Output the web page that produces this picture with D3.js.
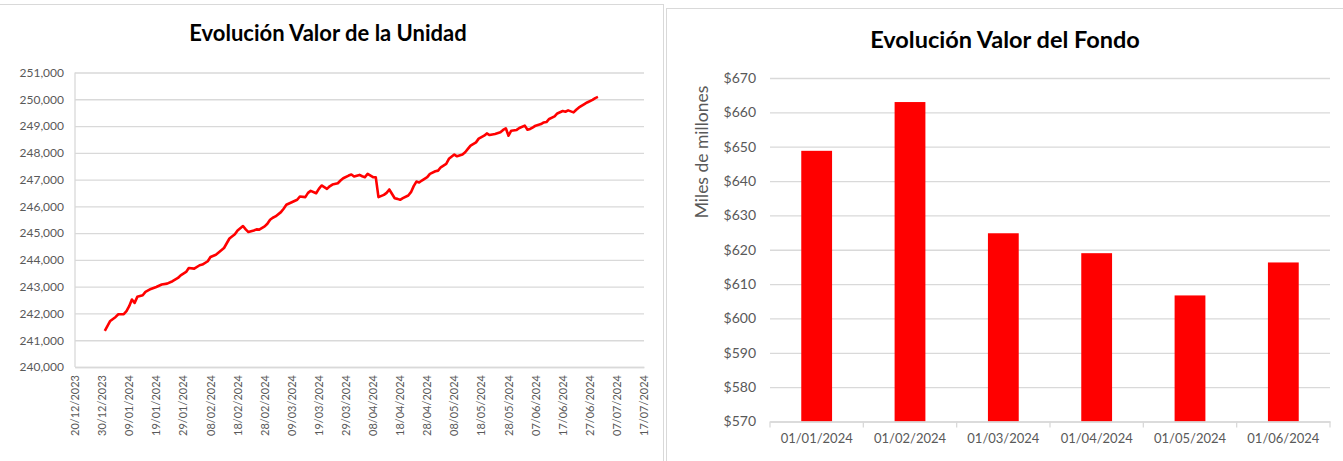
<!DOCTYPE html>
<html><head><meta charset="utf-8">
<script src="https://cdn.jsdelivr.net/npm/d3@7"></script>
<style>body{margin:0;background:#fff;}svg{display:block;font-family:Lato,"Open Sans",sans-serif;}</style>
</head><body>
<svg id="c" width="1343" height="461"></svg>
<script>
// ---- Data: left chart (unit value) ----
const unitDates = ["2023-12-31","2024-01-02","2024-01-04","2024-01-05","2024-01-07","2024-01-08","2024-01-09","2024-01-10","2024-01-11","2024-01-12","2024-01-14","2024-01-15","2024-01-17","2024-01-19","2024-01-21","2024-01-23","2024-01-25","2024-01-27","2024-01-28","2024-01-30","2024-01-31","2024-02-02","2024-02-04","2024-02-05","2024-02-07","2024-02-08","2024-02-10","2024-02-12","2024-02-13","2024-02-15","2024-02-17","2024-02-18","2024-02-20","2024-02-21","2024-02-22","2024-02-24","2024-02-25","2024-02-26","2024-02-28","2024-02-29","2024-03-01","2024-03-02","2024-03-03","2024-03-05","2024-03-06","2024-03-07","2024-03-09","2024-03-11","2024-03-12","2024-03-14","2024-03-15","2024-03-16","2024-03-18","2024-03-19","2024-03-20","2024-03-22","2024-03-23","2024-03-24","2024-03-26","2024-03-27","2024-03-28","2024-03-30","2024-03-31","2024-04-01","2024-04-03","2024-04-04","2024-04-05","2024-04-06","2024-04-08","2024-04-09","2024-04-10","2024-04-12","2024-04-13","2024-04-14","2024-04-16","2024-04-17","2024-04-18","2024-04-19","2024-04-21","2024-04-22","2024-04-23","2024-04-24","2024-04-25","2024-04-26","2024-04-28","2024-04-29","2024-05-01","2024-05-02","2024-05-03","2024-05-05","2024-05-06","2024-05-08","2024-05-09","2024-05-11","2024-05-12","2024-05-13","2024-05-14","2024-05-16","2024-05-17","2024-05-19","2024-05-20","2024-05-21","2024-05-23","2024-05-25","2024-05-26","2024-05-27","2024-05-28","2024-05-29","2024-05-31","2024-06-01","2024-06-03","2024-06-04","2024-06-05","2024-06-06","2024-06-07","2024-06-09","2024-06-10","2024-06-11","2024-06-12","2024-06-14","2024-06-15","2024-06-17","2024-06-18","2024-06-19","2024-06-21","2024-06-22","2024-06-23","2024-06-25","2024-06-26","2024-06-28","2024-06-29","2024-06-30"];
const unitValues = [241350,241720,241870,241970,241975,242085,242270,242520,242395,242620,242680,242805,242915,242990,243080,243115,243205,243325,243425,243550,243700,243675,243800,243825,243950,244110,244195,244360,244445,244800,244955,245100,245265,245140,245040,245100,245140,245130,245250,245350,245500,245575,245625,245785,245910,246060,246155,246245,246370,246345,246505,246580,246490,246655,246780,246655,246750,246815,246865,246965,247050,247150,247190,247115,247175,247125,247090,247215,247090,247090,246345,246430,246505,246630,246305,246280,246245,246305,246405,246530,246755,246925,246890,246965,247090,247215,247310,247335,247460,247585,247775,247935,247870,247935,248020,248145,248270,248390,248530,248640,248725,248665,248705,248765,248855,248915,248640,248825,248855,248925,249015,248865,248890,248950,249015,249075,249135,249150,249265,249360,249470,249560,249535,249585,249510,249610,249695,249820,249880,249980,250045,250090];
const unitTickDates = ["20/12/2023","30/12/2023","09/01/2024","19/01/2024","29/01/2024","08/02/2024","18/02/2024","28/02/2024","09/03/2024","19/03/2024","29/03/2024","08/04/2024","18/04/2024","28/04/2024","08/05/2024","18/05/2024","28/05/2024","07/06/2024","17/06/2024","27/06/2024","07/07/2024","17/07/2024"];
const unitYTicks = [240000,241000,242000,243000,244000,245000,246000,247000,248000,249000,250000,251000];

// ---- Data: right chart (fund value, miles de millones) ----
const fundCategories = ["01/01/2024","01/02/2024","01/03/2024","01/04/2024","01/05/2024","01/06/2024"];
const fundValues = [648.8,663.0,624.8,619.0,606.7,616.3];
const fundYTicks = [570,580,590,600,610,620,630,640,650,660,670];

const svg = d3.select("#c");
const grey = "#595959", grid = "#d9d9d9";

// chart frames
svg.append("rect").attr("x",-2).attr("y",4.5).attr("width",665.5).attr("height",470).attr("fill","none").attr("stroke",grid);
svg.append("rect").attr("x",666.5).attr("y",8.5).attr("width",690).attr("height",470).attr("fill","none").attr("stroke",grid);

// ---------- Left chart ----------
const parseDMY = d3.timeParse("%d/%m/%Y");
const parseISO = d3.timeParse("%Y-%m-%d");
const tickDates = unitTickDates.map(parseDMY);
const L = {x0:75, x1:644, y0:367, y1:72.5};
const xL = d3.scaleTime().domain([tickDates[0], tickDates[tickDates.length-1]]).range([L.x0, L.x1]);
const yL = d3.scaleLinear().domain([240000,251000]).range([L.y0, L.y1]);

svg.append("text").attr("x",328).attr("y",41).attr("text-anchor","middle")
  .attr("font-size",22).attr("font-weight","bold").attr("fill","#000").text("Evolución Valor de la Unidad");

const gyL = svg.append("g").attr("transform",`translate(${L.x0},0)`)
  .call(d3.axisLeft(yL).tickValues(unitYTicks).tickSize(-(L.x1-L.x0)).tickPadding(11)
    .tickFormat(d3.format(",.0f")));
gyL.select(".domain").remove();
gyL.selectAll(".tick line").attr("stroke",grid).attr("stroke-width",1.3);
gyL.selectAll(".tick text").attr("fill",grey).attr("font-size",12).attr("font-family","Lato,sans-serif");
svg.append("line").attr("x1",L.x0).attr("x2",L.x0).attr("y1",L.y1).attr("y2",L.y0).attr("stroke",grid).attr("stroke-width",1.3);

const gxL = svg.append("g").attr("transform",`translate(0,${L.y0})`)
  .call(d3.axisBottom(xL).tickValues(tickDates).tickSize(0).tickFormat(d3.timeFormat("%d/%m/%Y")));
gxL.select(".domain").attr("stroke",grid).attr("stroke-width",1.3);
gxL.selectAll(".tick text").attr("fill",grey).attr("font-size",11).attr("font-family","Lato,sans-serif")
  .attr("transform","rotate(-90)").attr("text-anchor","end").attr("dx","-8").attr("dy","0.32em").attr("x",0).attr("y",0);

const lineData = unitDates.map((d,i)=>({date:parseISO(d), v:unitValues[i]}));
svg.append("path").datum(lineData).attr("fill","none").attr("stroke","#ff0000").attr("stroke-width",2.6)
  .attr("stroke-linejoin","round")
  .attr("d", d3.line().x(d=>xL(d.date)).y(d=>yL(d.v)));

// ---------- Right chart ----------
const R = {x0:770, x1:1330, y0:421.5, y1:78};
const xR = d3.scaleBand().domain(fundCategories).range([R.x0,R.x1]).paddingInner(0.67).paddingOuter(0.335);
const yR = d3.scaleLinear().domain([570,670]).range([R.y0,R.y1]);

svg.append("text").attr("x",1005).attr("y",48).attr("text-anchor","middle")
  .attr("font-size",23.5).attr("font-weight","bold").attr("fill","#000").text("Evolución Valor del Fondo");

const gyR = svg.append("g").attr("transform",`translate(${R.x0},0)`)
  .call(d3.axisLeft(yR).tickValues(fundYTicks).tickSize(-(R.x1-R.x0)).tickPadding(14).tickFormat(d=>"$"+d));
gyR.select(".domain").remove();
gyR.selectAll(".tick line").attr("stroke",grid).attr("stroke-width",1.3);
gyR.selectAll(".tick text").attr("fill",grey).attr("font-size",14).attr("font-family","Lato,sans-serif");

svg.append("text").attr("transform",`translate(708,152) rotate(-90)`)
  .attr("text-anchor","middle").attr("font-size",17.5).attr("fill",grey).text("Miles de millones");

svg.append("g").selectAll("rect").data(fundValues).join("rect")
  .attr("x",(d,i)=>xR(fundCategories[i])).attr("width",xR.bandwidth())
  .attr("y",d=>yR(d)).attr("height",d=>R.y0-yR(d)).attr("fill","#ff0000");

// category axis with boundary ticks
const gxR = svg.append("g").attr("transform",`translate(0,${R.y0})`)
  .call(d3.axisBottom(xR).tickSize(0).tickPadding(12));
gxR.select(".domain").attr("stroke",grid).attr("stroke-width",1.3);
gxR.selectAll(".tick text").attr("fill",grey).attr("font-size",13).attr("font-family","Lato,sans-serif");
const step = xR.step();
const bounds = d3.range(fundCategories.length+1).map(i=>R.x0 + i*step);
gxR.selectAll(".bt").data(bounds).join("line").attr("class","bt")
  .attr("x1",d=>d).attr("x2",d=>d).attr("y1",0).attr("y2",6).attr("stroke",grid).attr("stroke-width",1.3);
</script>
</body></html>
